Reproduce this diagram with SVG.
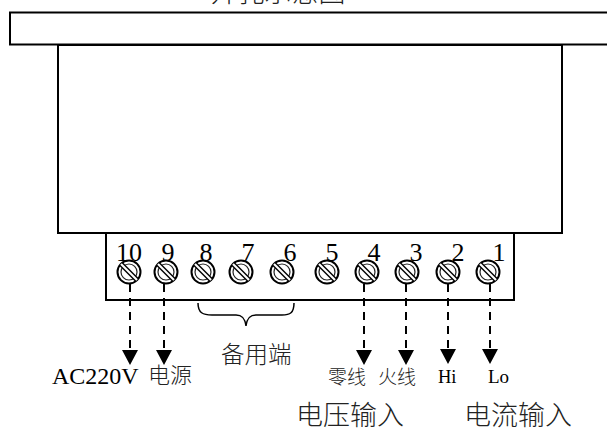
<svg xmlns="http://www.w3.org/2000/svg" width="607" height="430" viewBox="0 0 607 430">
<defs>
<g id="screw"><circle r="11.500" fill="#fff" stroke="#000" stroke-width="2"/><circle r="8" fill="none" stroke="#222" stroke-width="1.200"/><path d="M-8 -8L8 8" stroke="#000" stroke-width="5"/><path d="M-8 -8L8 8" stroke="#fff" stroke-width="2.200"/></g>
<path id="arr" d="M-8 0H8L0 15Z" fill="#000"/>
</defs>
<style>
.b{fill:#fff;stroke:#000;stroke-width:2}
.c{stroke:#000;stroke-width:2;stroke-dasharray:8 6;fill:none}
text{font-family:"Liberation Serif","Noto Sans CJK SC",serif;fill:#000}
.n{font-size:26px;text-anchor:middle}
.s{font-family:"Noto Sans CJK SC","Liberation Serif",serif;font-weight:300;fill:#222}
</style>
<text x="278" y="1.500" font-size="27" class="s" text-anchor="middle">开孔示意图</text>
<g id="panel"><rect class="b" x="58" y="45" width="504" height="188"/></g>
<g id="bezel"><rect class="b" x="10" y="12.500" width="610" height="32"/></g>
<g id="terminal-block"><rect class="b" x="106" y="233" width="408" height="67"/></g>
<g id="connectors">
<path class="c" d="M130 284V348"/><use href="#arr" x="130" y="350"/>
<path class="c" d="M164 284V348"/><use href="#arr" x="164" y="350"/>
<path class="c" d="M364 284V348"/><use href="#arr" x="364" y="350"/>
<path class="c" d="M406 284V348"/><use href="#arr" x="406" y="350"/>
<path class="c" d="M448 284V348"/><use href="#arr" x="448" y="349"/>
<path class="c" d="M490 284V348"/><use href="#arr" x="490" y="349"/>
<path d="M198 303C198 313 203 315 212 315H236C242 315 245 318 246 326C247 318 250 315 256 315H282C290 315 294 313 294 303" fill="none" stroke="#000" stroke-width="1.500"/>
</g>
<g id="t10"><use href="#screw" x="129" y="272"/><text class="n" x="129" y="261">10</text></g>
<g id="t9"><use href="#screw" x="166" y="272"/><text class="n" x="168" y="261">9</text></g>
<g id="t8"><use href="#screw" x="203" y="272"/><text class="n" x="206" y="261">8</text></g>
<g id="t7"><use href="#screw" x="241" y="272"/><text class="n" x="248" y="261">7</text></g>
<g id="t6"><use href="#screw" x="282" y="272"/><text class="n" x="290" y="261">6</text></g>
<g id="t5"><use href="#screw" x="327" y="272"/><text class="n" x="332" y="261">5</text></g>
<g id="t4"><use href="#screw" x="367" y="272"/><text class="n" x="374" y="261">4</text></g>
<g id="t3"><use href="#screw" x="407" y="272"/><text class="n" x="416" y="261">3</text></g>
<g id="t2"><use href="#screw" x="448" y="272"/><text class="n" x="458" y="261">2</text></g>
<g id="t1"><use href="#screw" x="488" y="272"/><text class="n" x="499" y="261">1</text></g>
<text x="52" y="384" font-size="24">AC220V</text>
<text x="148" y="383" font-size="22" class="s">电源</text>
<text x="221" y="363" font-size="23.500" class="s">备用端</text>
<text x="328" y="384" font-size="19" class="s">零线</text>
<text x="378" y="384" font-size="19" class="s">火线</text>
<text x="438" y="383" font-size="18.500">Hi</text>
<text x="488" y="383" font-size="19">Lo</text>
<text x="296" y="425" font-size="27" class="s">电压输入</text>
<text x="464" y="425" font-size="27" class="s">电流输入</text>
</svg>
